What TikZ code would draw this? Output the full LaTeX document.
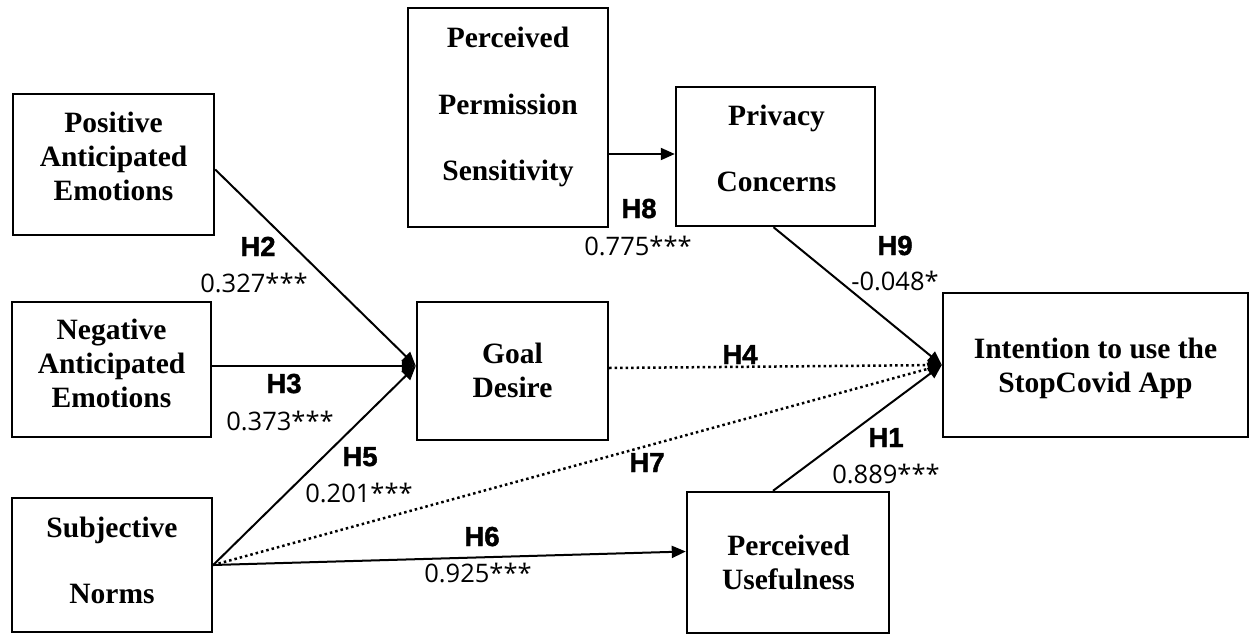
\documentclass[tikz,border=0pt]{standalone}
\usepackage{fontspec}
\setmainfont{Liberation Serif}
\newfontfamily\hfont[UprightFont={* Bold}, FakeBold=1.6]{Liberation Sans}
\newfontfamily\nfont{Open Sans}
\usetikzlibrary{arrows.meta}
\begin{document}
\begin{tikzpicture}[x=1pt,y=-1pt,
  box/.style={draw, line width=2.4pt, inner sep=0pt},
  btext/.style={font=\fontsize{29.5}{34}\selectfont\bfseries, align=center, inner sep=0pt},
  bwide/.style={font=\fontsize{29.5}{66.5}\selectfont\bfseries, align=center, inner sep=0pt},
  hlab/.style={font=\hfont\fontsize{27.5}{30}\selectfont, anchor=base, inner sep=0pt},
  nlab/.style={font=\nfont\fontsize{25.5}{30}\selectfont, anchor=base, inner sep=0pt},
  conn/.style={line width=2pt, -{Triangle[length=14pt,width=12pt]}},
  dotconn/.style={conn, line width=2.5pt, dash pattern=on 2.5pt off 3pt}]
\useasboundingbox (0,0) rectangle (1250,637);
\fill[white] (0,0) rectangle (1250,637);

% boxes
\node[box, minimum width=201pt, minimum height=141pt] (pae) at (113.5,164.5) {};
\node[btext] (paeT) at (113.5,156) {Positive\\Anticipated\\Emotions};
\node[box, minimum width=199pt, minimum height=135pt] (nae) at (111.5,369.5) {};
\node[btext] (naeT) at (111.5,363) {Negative\\Anticipated\\Emotions};
\node[box, minimum width=200pt, minimum height=134pt] (sn) at (112,565) {};
\node[bwide] (snT) at (112,560.5) {Subjective\\Norms};
\node[box, minimum width=191pt, minimum height=138pt] (gd) at (512.5,371) {};
\node[btext] (gdT) at (512.5,370.7) {Goal\\Desire};
\node[box, minimum width=200pt, minimum height=219pt] (pps) at (508,117.5) {};
\node[bwide] (ppsT) at (508,107) {Perceived\\Permission\\Sensitivity};
\node[box, minimum width=199pt, minimum height=139pt] (pc) at (775.5,156.5) {};
\node[bwide] (pcT) at (776.5,148.5) {Privacy\\Concerns};
\node[box, minimum width=305pt, minimum height=144pt] (int) at (1095.5,365) {};
\node[btext] (intT) at (1095.5,368.5) {Intention to use the\\StopCovid App};
\node[box, minimum width=202pt, minimum height=141pt] (pu) at (788,562.5) {};
\node[btext] (puT) at (788.5,562.5) {Perceived\\Usefulness};

% connectors
\coordinate (gdin) at ([yshift=5pt]gd.west);
\coordinate (h8y) at (0,154);
\draw[conn] ([yshift=-5pt]pae.east) -- (gdin);
\draw[conn] (nae.east |- gdin) -- (gdin);
\draw[conn] (sn.east) -- (gdin);
\draw[dotconn] (sn.east) -- (int.west);
\draw[conn] (sn.east) -- ([yshift=11pt]pu.west);
\draw[conn] (pps.east |- h8y) -- (pc.west |- h8y);
\draw[conn] ([xshift=-2pt]pc.south) -- (int.west);
\draw[dotconn] ([yshift=3pt]gd.east) -- (int.west);
\draw[conn] ([xshift=-15pt]pu.north) -- (int.west);

% labels
\node[hlab] (h2) at (258,256) {H2};
\node[nlab] (v2) at (254,292) {0.327***};
\node[hlab] (h3) at (284,393) {H3};
\node[nlab] (v3) at (280,430) {0.373***};
\node[hlab] (h5) at (360,466) {H5};
\node[nlab] (v5) at (359,502) {0.201***};
\node[hlab] (h6) at (482,546) {H6};
\node[nlab] (v6) at (478,582) {0.925***};
\node[hlab] (h7) at (647,472) {H7};
\node[hlab] (h8) at (639,218) {H8};
\node[nlab] (v8) at (638,255) {0.775***};
\node[hlab] (h9) at (895,255) {H9};
\node[nlab] (v9) at (895,290) {-0.048*};
\node[hlab] (h4) at (740,364) {H4};
\node[hlab] (h1) at (886,447) {H1};
\node[nlab] (v1) at (886,483) {0.889***};
\end{tikzpicture}
\end{document}
